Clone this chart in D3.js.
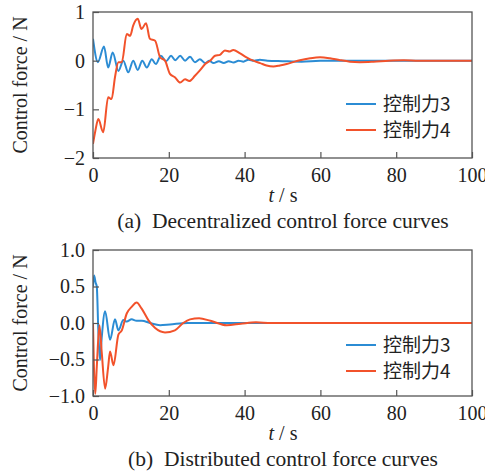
<!DOCTYPE html>
<html>
<head>
<meta charset="utf-8">
<script src="https://cdn.jsdelivr.net/npm/d3@7"></script>
<style>
  body { margin: 0; background: #fff; }
  svg text { font-family: "Liberation Serif", "DejaVu Serif", "Times New Roman", serif; fill: #222; }
</style>
</head>
<body>
<svg id="chart" width="485" height="475"></svg>
<script>
// time axis ticks
var xTicks = [0, 20, 40, 60, 80, 100];
var yTicksA = [-2, -1, 0, 1];
var yTicksB = [-1, -0.5, 0, 0.5, 1];
var seriesNames = ["控制力3", "控制力4"];
var colors = ["#2b8cd4", "#f2522b"];

// (a) decentralized control, [t, force]
var decForce3 = [[0,0.45],[1.3,-0.03],[2.9,0.29],[4.0,-0.14],[5.2,0.17],[6.7,-0.21],[8.0,0.0],[9.3,-0.24],
  [10.6,0.0],[11.8,-0.19],[13.0,0.0],[14.2,-0.14],[15.5,0.03],[16.6,-0.07],[17.9,0.10],[19.3,-0.01],
  [20.6,0.10],[21.7,0.01],[23.0,0.10],[24.3,0.0],[25.6,0.08],[26.9,-0.03],[28.2,0.03],[29.6,-0.05],
  [30.7,0.0],[31.8,-0.05],[33.2,-0.01],[34.5,-0.05],[35.8,-0.01],[37.1,-0.04],[38.4,0.0],[39.7,-0.02],
  [41,0.02],[42.5,0.0],[44,0.02],[46,0.0],[50,-0.01],[55,-0.02],[60,0.0],[70,0.0],[80,0.0],[100,0]];
var decForce4 = [[0,-1.71],[0.6,-1.45],[1.4,-1.2],[2.7,-1.47],[4.0,-0.75],[4.9,-0.79],[5.8,-0.34],[6.7,-0.03],
  [7.6,-0.03],[8.9,0.55],[9.8,0.51],[10.6,0.72],[11.8,0.86],[12.8,0.65],[14.0,0.77],[15.0,0.45],[16.4,0.41],
  [17.7,0.07],[19.0,0.0],[20.3,-0.27],[21.6,-0.34],[23.0,-0.45],[24.3,-0.38],[25.4,-0.42],[26.9,-0.31],
  [28.2,-0.2],[29.6,-0.07],[30.9,0.0],[32.2,0.10],[33.5,0.12],[34.8,0.21],[36.1,0.19],[37.0,0.22],
  [38.8,0.15],[40.5,0.07],[42.3,0],[44.1,-0.05],[45.8,-0.10],[47.6,-0.12],[49.3,-0.10],[51.1,-0.07],
  [52.8,-0.03],[54.6,0.01],[57.3,0.05],[59.9,0.07],[62.5,0.05],[65.2,0.01],[67.8,-0.02],[70.4,-0.03],
  [74,-0.02],[78,0.0],[82,0.01],[86,0.0],[100,0]];

// (b) distributed control
var disForce3 = [[0,0.5],[0.3,0.65],[0.7,0.55],[1.0,0.5],[1.4,-0.1],[1.85,-0.51],[2.3,-0.2],[3.2,0.16],
  [4.5,-0.23],[5.8,0.05],[6.7,-0.10],[8.0,0.04],[8.9,0.02],[10.2,0.05],[11.5,0.03],[12.9,0.03],[15,0.0],
  [17.7,-0.03],[20.3,-0.02],[25,0.0],[30,0.0],[100,0]];
var disForce4 = [[0,0],[0.25,-0.6],[0.6,-0.97],[1.0,-0.6],[1.7,-0.03],[2.3,-0.4],[3.2,-0.9],[4.0,-0.6],
  [4.5,-0.39],[5.4,-0.58],[6.7,-0.16],[7.6,-0.10],[8.9,0.13],[10.2,0.22],[11.5,0.28],[12.8,0.20],
  [14.6,0.04],[16.4,-0.07],[19.0,-0.13],[21.6,-0.10],[23.8,0.0],[25.6,0.05],[28.0,0.065],[31,0.03],
  [35.3,-0.03],[39,-0.01],[43,0.01],[47,0.0],[52,0.0],[100,0]];

var svg = d3.select("#chart");

function panel(top, yDomain, yTicks, fmt, lines, caption, legendY) {
  var left = 93, right = 472, bottom = top + 146;
  var x = d3.scaleLinear().domain([0, 100]).range([left, right]);
  var y = d3.scaleLinear().domain(yDomain).range([bottom, top]);
  var g = svg.append("g");

  var clipId = "clip" + top;
  g.append("clipPath").attr("id", clipId)
    .append("rect").attr("x", left).attr("y", top).attr("width", right - left).attr("height", bottom - top);

  var line = d3.line().x(d => x(d[0])).y(d => y(d[1])).curve(d3.curveMonotoneX);
  lines.forEach(function(data, i) {
    g.append("path").datum(data)
      .attr("clip-path", "url(#" + clipId + ")")
      .attr("fill", "none").attr("stroke", colors[i]).attr("stroke-width", 2)
      .attr("d", line);
  });

  // axes, ticks pointing inward
  var xa = g.append("g").attr("transform", "translate(0," + bottom + ")")
    .call(d3.axisBottom(x).tickValues(xTicks).tickSizeInner(-6).tickSizeOuter(0).tickPadding(10));
  var ya = g.append("g").attr("transform", "translate(" + left + ",0)")
    .call(d3.axisLeft(y).tickValues(yTicks).tickFormat(fmt).tickSizeInner(-6).tickSizeOuter(0).tickPadding(8));
  [xa, ya].forEach(function(a) {
    a.select(".domain").remove();
    a.selectAll("line").attr("stroke", "#555").attr("stroke-width", 1.2);
    a.selectAll("text").attr("font-size", 20).attr("fill", "#222")
      .style("font-family", "'Liberation Serif', 'DejaVu Serif', serif");
  });
  xa.selectAll("text").attr("dy", "0.71em");

  g.append("rect").attr("x", left).attr("y", top).attr("width", right - left).attr("height", bottom - top)
    .attr("fill", "none").attr("stroke", "#555").attr("stroke-width", 1.3);

  // y label
  g.append("text").attr("transform", "translate(27," + (top + 73) + ") rotate(-90)")
    .attr("text-anchor", "middle").attr("font-size", 20).text("Control force / N");

  // x label
  var xl = g.append("text").attr("x", 283).attr("y", bottom + 44).attr("text-anchor", "middle").attr("font-size", 20);
  xl.append("tspan").attr("font-style", "italic").text("t");
  xl.append("tspan").text(" / s");

  g.append("text").attr("x", 283).attr("y", bottom + 70).attr("text-anchor", "middle")
    .attr("font-size", 21.5).attr("xml:space", "preserve").text(caption);

  // legend
  seriesNames.forEach(function(name, i) {
    var ly = legendY + i * 26;
    g.append("line").attr("x1", 346).attr("x2", 376).attr("y1", ly).attr("y2", ly)
      .attr("stroke", colors[i]).attr("stroke-width", 2);
    g.append("text").attr("x", 383).attr("y", ly).attr("dy", "0.35em")
      .attr("font-size", 19).style("font-family", "'Noto Sans CJK SC', sans-serif").text(name);
  });
}

panel(12, [-2, 1], yTicksA, d3.format("d"), [decForce3, decForce4], "(a)  Decentralized control force curves", 104);
panel(250, [-1, 1], yTicksB, d3.format(".1f"), [disForce3, disForce4], "(b)  Distributed control force curves", 345);
</script>
</body>
</html>
